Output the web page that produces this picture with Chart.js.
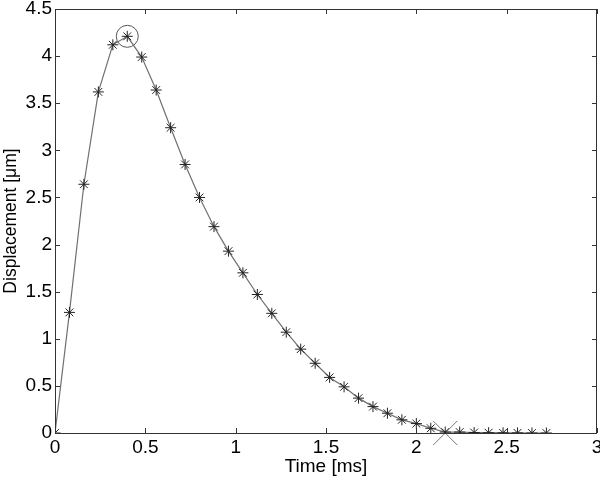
<!DOCTYPE html>
<html>
<head>
<meta charset="utf-8">
<script src="https://cdn.jsdelivr.net/npm/chart.js@4/dist/chart.umd.min.js"></script>
<style>
  html, body { margin: 0; padding: 0; background: #fff; overflow: hidden; }
  body { width: 600px; height: 478px; position: relative; }
  /* canvas slightly larger than the window so the axis box reaches the edges like the figure */
  #wrap { width: 615px; height: 487px; position: absolute; left: 0; top: -9px; }
</style>
</head>
<body>
<div id="wrap"><canvas id="dispChart"></canvas></div>
<script>
const timeMs = [0, 0.08, 0.16, 0.24, 0.32, 0.40, 0.48, 0.56, 0.64, 0.72, 0.80, 0.88,
    0.96, 1.04, 1.12, 1.20, 1.28, 1.36, 1.44, 1.52, 1.60, 1.68, 1.76, 1.84, 1.92,
    2.00, 2.08, 2.16, 2.24, 2.32, 2.40, 2.48, 2.56, 2.64, 2.72];
const displacement = [0, 1.28, 2.64, 3.62, 4.12, 4.21, 3.99, 3.64, 3.24, 2.85, 2.50, 2.19,
    1.93, 1.70, 1.47, 1.27, 1.07, 0.89, 0.74, 0.59, 0.49, 0.37, 0.28, 0.21, 0.14,
    0.10, 0.05, 0.01, 0.01, 0.005, 0.003, 0.002, 0.001, 0, 0];

// marked points
const peakPoint = { x: 0.40, y: 4.21 };
const endPoint = { x: 2.16, y: 0 };

const xTicks = [0, 0.5, 1, 1.5, 2, 2.5, 3];
const yTicks = [0, 0.5, 1, 1.5, 2, 2.5, 3, 3.5, 4, 4.5];

const fontFamily = '"Liberation Sans", Arial, sans-serif';

// matlab style box with inward ticks on all sides
const boxPlugin = {
    id: 'matlabBox',
    afterDraw(chart) {
        const { ctx, chartArea: a, scales } = chart;
        ctx.save();
        ctx.strokeStyle = '#333';
        ctx.lineWidth = 1;
        ctx.strokeRect(a.left + 0.5, a.top + 0.5, a.right - a.left - 1, a.bottom - a.top);
        ctx.beginPath();
        xTicks.forEach(v => {
            const px = Math.round(scales.x.getPixelForValue(v)) + 0.5;
            ctx.moveTo(px, a.bottom); ctx.lineTo(px, a.bottom - 5);
            ctx.moveTo(px, a.top); ctx.lineTo(px, a.top + 5);
        });
        yTicks.forEach(v => {
            const py = Math.round(scales.y.getPixelForValue(v)) + 0.5;
            ctx.moveTo(a.left, py); ctx.lineTo(a.left + 5, py);
            ctx.moveTo(a.right, py); ctx.lineTo(a.right - 5, py);
        });
        ctx.stroke();
        ctx.restore();
    }
};

const ctx = document.getElementById('dispChart').getContext('2d');
let chart = new Chart(ctx, {
    type: 'scatter',
    data: {
        datasets: [{
            label: 'Displacement',
            data: timeMs.map((t, i) => ({ x: t, y: displacement[i] })),
            showLine: true,
            borderColor: '#707070',
            borderWidth: 1.2,
            pointStyle: 'star',
            pointRadius: 5.5,
            pointBorderColor: '#222',
            pointBorderWidth: 1,
            pointBackgroundColor: '#222',
            tension: 0
        }, {
            label: 'Peak',
            data: [peakPoint],
            clip: false,
            pointStyle: 'circle',
            pointRadius: 11,
            pointBorderColor: '#555',
            pointBorderWidth: 1,
            pointBackgroundColor: 'rgba(0,0,0,0)'
        }, {
            label: 'End',
            data: [endPoint],
            clip: false,
            pointStyle: 'crossRot',
            pointRadius: 17,
            pointBorderColor: '#777',
            pointBorderWidth: 1
        }]
    },
    options: {
        responsive: true,
        maintainAspectRatio: false,
        animation: false,
        layout: { padding: { top: 7, right: 3, left: 0, bottom: 0 } },
        plugins: {
            legend: { display: false },
            tooltip: { enabled: false }
        },
        scales: {
            x: {
                type: 'linear',
                min: 0,
                max: 3,
                afterBuildTicks: s => { s.ticks = xTicks.map(v => ({ value: v })); },
                afterFit: s => { s.height = 45; },
                grid: { display: false, drawTicks: false },
                border: { display: false },
                ticks: {
                    color: '#000',
                    padding: 3,
                    font: { family: fontFamily, size: 19 },
                    callback: v => String(v)
                },
                title: {
                    display: true,
                    text: 'Time [ms]',
                    color: '#000',
                    padding: { top: 0, bottom: 0 },
                    font: { family: fontFamily, size: 19 }
                }
            },
            y: {
                type: 'linear',
                min: 0,
                max: 4.5,
                afterBuildTicks: s => { s.ticks = yTicks.map(v => ({ value: v })); },
                afterFit: s => { s.width = 55; },
                grid: { display: false, drawTicks: false },
                border: { display: false },
                ticks: {
                    color: '#000',
                    padding: 3,
                    font: { family: fontFamily, size: 19 },
                    callback: v => String(v)
                },
                title: {
                    display: true,
                    text: 'Displacement [μm]',
                    color: '#000',
                    padding: { top: 1, bottom: 0 },
                    font: { family: fontFamily, size: 17.5 }
                }
            }
        }
    },
    plugins: [boxPlugin]
});
</script>
</body>
</html>
